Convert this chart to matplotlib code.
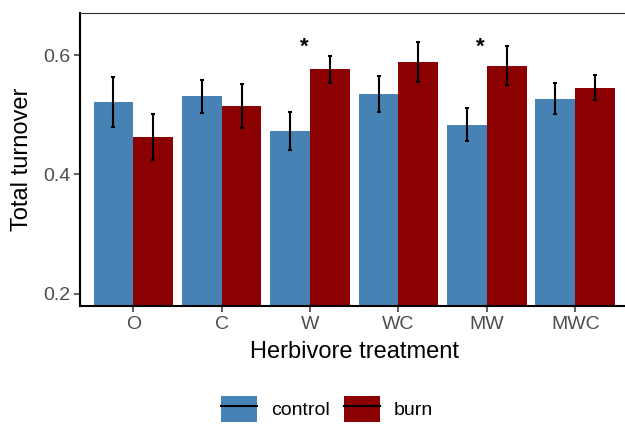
import matplotlib
matplotlib.use("Agg")
import matplotlib.pyplot as plt
from matplotlib.patches import Patch
from matplotlib.lines import Line2D
from matplotlib.legend_handler import HandlerTuple
import numpy as np

plt.rcParams['font.family'] = ['Liberation Sans', 'DejaVu Sans']

categories = ["O", "C", "W", "WC", "MW", "MWC"]
control_mean = [0.521, 0.531, 0.473, 0.535, 0.483, 0.526]
control_low = [0.479, 0.503, 0.441, 0.505, 0.456, 0.501]
control_high = [0.563, 0.559, 0.505, 0.565, 0.511, 0.554]
burn_mean = [0.463, 0.515, 0.577, 0.588, 0.582, 0.545]
burn_low = [0.425, 0.478, 0.554, 0.555, 0.550, 0.525]
burn_high = [0.501, 0.551, 0.599, 0.622, 0.615, 0.566]
signif_categories = ["W", "MW"]
signif_y = 0.614

blue = "#4682B4"
red = "#8B0000"
ymin = 0.1796

fig = plt.figure(figsize=(6.25, 4.25), dpi=100)
ax = fig.add_axes([80.3 / 625, 0.28, 548 / 625, 0.690])

x = np.arange(len(categories))
w = 0.45
cm = np.array(control_mean); bm = np.array(burn_mean)
ax.bar(x - w / 2, cm - ymin, w, bottom=ymin, color=blue, zorder=2)
ax.bar(x + w / 2, bm - ymin, w, bottom=ymin, color=red, zorder=2)
ax.errorbar(x - w / 2, cm, yerr=[cm - np.array(control_low), np.array(control_high) - cm],
            fmt="none", ecolor="black", elinewidth=1.5, capsize=1.6, capthick=1.5, zorder=3)
ax.errorbar(x + w / 2, bm, yerr=[bm - np.array(burn_low), np.array(burn_high) - bm],
            fmt="none", ecolor="black", elinewidth=1.5, capsize=1.6, capthick=1.5, zorder=3)
for c in signif_categories:
    i = categories.index(c)
    ax.text(i - 0.07, signif_y, "*", ha="center", va="center", fontsize=16,
            fontweight="bold", color="black")

ax.set_xlim(-0.6, 5.6)
ax.set_ylim(ymin, 0.671)
ax.set_xticks(x)
ax.set_xticklabels(categories)
ax.set_yticks([0.2, 0.4, 0.6])
ax.set_yticklabels(["0.2", "0.4", "0.6"])
ax.tick_params(axis="both", colors="#333333", labelcolor="#4D4D4D", labelsize=14,
               length=4, width=1.1, pad=3)

for s in ["left", "bottom"]:
    ax.spines[s].set_linewidth(1.5)
    ax.spines[s].set_color("black")
ax.spines["top"].set_linewidth(0.8)
ax.spines["top"].set_color("#333333")
ax.spines["right"].set_visible(False)

ax.set_xlabel("Herbivore treatment", fontsize=17, color="black", va="center")
ax.xaxis.set_label_coords(0.5, (306 - 352) / 293.3)
ax.set_ylabel("Total turnover", fontsize=17, color="black", va="center")
ax.yaxis.set_label_coords((22.5 - 80.3) / 548, 0.5)

line = Line2D([], [], color="black", linewidth=1.5)
handles = [(Patch(facecolor=blue), line), (Patch(facecolor=red), line)]
leg = fig.legend(handles, ["control", "burn"], loc="center",
                 bbox_to_anchor=(327 / 625, 1 - 409 / 425), ncol=2, frameon=False,
                 fontsize=14, handlelength=1.85, handleheight=1.7, handletextpad=0.7,
                 columnspacing=0.72, borderpad=0,
                 handler_map={tuple: HandlerTuple(ndivide=1, pad=0)})

fig.savefig("out.png", dpi=100)
